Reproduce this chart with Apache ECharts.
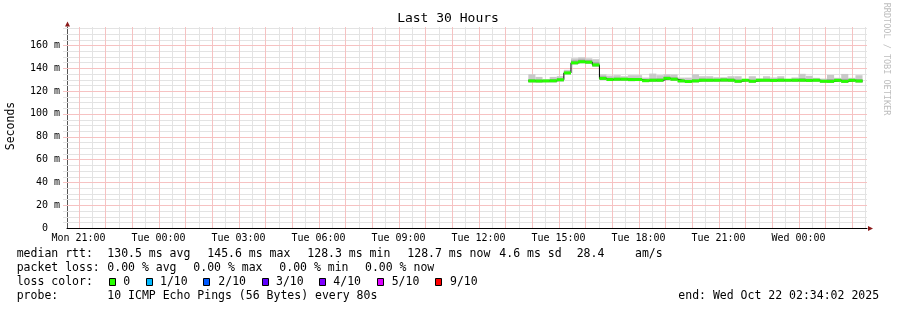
<!DOCTYPE html>
<html><head><meta charset="utf-8">
<script src="https://cdn.jsdelivr.net/npm/echarts@6/dist/echarts.min.js"></script>
<style>html,body{margin:0;padding:0;background:#fff}#c{width:897px;height:310px}</style>
</head><body><div id="c"></div>
<script>
// ---------------- data ----------------
const chartTitle = 'Last 30 Hours';
const yAxisName = 'Seconds';
const watermark = 'RRDTOOL / TOBI OETIKER';
const axisStart = 'Mon 20:34:02';
const axisEnd = 'Wed 02:34:02';
const xTickLabels = ['Mon 21:00','Tue 00:00','Tue 03:00','Tue 06:00','Tue 09:00','Tue 12:00','Tue 15:00','Tue 18:00','Tue 21:00','Wed 00:00'];
const yTickValues = [0,20,40,60,80,100,120,140,160];
const yMax = 176;
// step boundaries (16 minute consolidation)
const stepEdges = ['Tue 13:52','Tue 14:08','Tue 14:24','Tue 14:40','Tue 14:56','Tue 15:12','Tue 15:28','Tue 15:44','Tue 16:00','Tue 16:16','Tue 16:32','Tue 16:48','Tue 17:04','Tue 17:20','Tue 17:36','Tue 17:52','Tue 18:08','Tue 18:24','Tue 18:40','Tue 18:56','Tue 19:12','Tue 19:28','Tue 19:44','Tue 20:00','Tue 20:16','Tue 20:32','Tue 20:48','Tue 21:04','Tue 21:20','Tue 21:36','Tue 21:52','Tue 22:08','Tue 22:24','Tue 22:40','Tue 22:56','Tue 23:12','Tue 23:28','Tue 23:44','Wed 00:00','Wed 00:16','Wed 00:32','Wed 00:48','Wed 01:04','Wed 01:20','Wed 01:36','Wed 01:52','Wed 02:08','Wed 02:24'];
// values in ms
const medianRtt = [128.8,128.7,128.8,128.9,129.8,135.8,144.6,145.6,145.2,142.8,131.0,130.0,130.3,130.3,130.0,130.0,129.0,129.4,129.4,131.0,130.3,128.8,128.3,128.8,129.4,129.4,129.4,129.6,129.4,128.5,129.4,128.5,129.4,129.4,129.2,129.4,129.4,129.4,129.4,129.2,129.4,128.5,128.4,129.3,128.4,129.3,128.7];
const smokeMin = [127.6,127.5,127.7,127.6,128.4,134.6,143.4,144.3,144.0,141.4,129.6,128.7,128.9,129.0,128.6,128.8,127.8,128.1,128.0,129.5,129.0,127.7,127.2,127.6,128.2,128.1,128.2,128.1,128.2,127.3,128.2,127.3,128.1,128.2,128.0,128.1,128.2,128.0,128.1,128.0,128.2,127.3,127.2,128.0,127.2,128.1,127.5];
const smokeInnerMax = [130.2,129.8,129.5,130.4,131.0,137.0,146.8,147.6,147.0,145.2,132.8,131.6,131.5,131.4,131.4,131.2,130.4,130.8,131.0,132.6,131.8,130.0,129.6,130.2,130.8,130.6,130.4,131.0,130.8,129.8,130.2,129.8,130.2,130.6,130.4,130.8,129.9,130.5,131.2,130.6,130.2,129.6,130.4,130.4,130.6,130.2,130.4];
const smokeMax = [134.6,132.3,130.2,132.3,133.0,138.5,148.6,149.4,148.6,147.8,134.5,133.5,133.8,132.9,133.8,133.8,131.7,135.2,133.8,134.6,134.4,131.7,131.7,134.6,132.9,132.9,132.0,132.0,132.9,132.9,130.5,132.9,131.0,132.9,131.8,132.9,130.5,131.8,135.0,133.3,131.5,130.8,134.0,131.5,134.9,131.5,133.8];
// legend texts
const statsRtt = ['median rtt:','130.5 ms avg','145.6 ms max','128.3 ms min','128.7 ms now','4.6 ms sd','28.4','am/s'];
const statsLoss = ['packet loss:','0.00 % avg','0.00 % max','0.00 % min','0.00 % now'];
const lossLabel = 'loss color:';
const lossNames = ['0','1/10','2/10','3/10','4/10','5/10','9/10'];
const lossColors = ['#26ff00','#00b8ff','#0059ff','#5e00ff','#7e00ff','#dd00ff','#ff0000'];
const probeLabel = 'probe:';
const probeText = '10 ICMP Echo Pings (56 Bytes) every 80s';
const endText = 'end: Wed Oct 22 02:34:02 2025';

// ---------------- helpers ----------------
const dayOffset = {Mon:0, Tue:24, Wed:48};
function toHours(s){
  const [d,t] = s.split(' ');
  const p = t.split(':').map(Number);
  return dayOffset[d] + p[0] + p[1]/60 + (p[2]||0)/3600;
}
const xMin = toHours(axisStart), xMax = toHours(axisEnd);
const xTickHours = xTickLabels.map(toHours);
const edges = stepEdges.map(toHours);

// grid lines: [value, orientation(0 vertical, 1 horizontal)]
const minorLines = [], majorLines = [];
for (let h = Math.ceil(xMin*2)/2; h <= xMax; h += 0.5) (Math.abs(h-Math.round(h))<1e-9 ? majorLines : minorLines).push([h, 0]);
for (let v = 5; v < yMax; v += 5) (v % 20 === 0 ? majorLines : minorLines).push([v, 1]);

const smokeOuter = medianRtt.map((m,i)=>[edges[i], edges[i+1], smokeMin[i], smokeMax[i]]);
const smokeInner = medianRtt.map((m,i)=>[edges[i], edges[i+1], smokeMin[i], smokeInnerMax[i]]);
const medianBars = medianRtt.map((m,i)=>[edges[i], edges[i+1], m]);
const medianLine = medianRtt.map((m,i)=>[edges[i], m]).concat([[edges[edges.length-1], medianRtt[medianRtt.length-1]]]);

const mono = '"DejaVu Sans Mono", monospace';

function rectRender(fill){
  return function(params, api){
    const a = api.coord([api.value(0), api.value(3)]);
    const b = api.coord([api.value(1), api.value(2)]);
    return {type:'rect', shape:{x:a[0], y:a[1], width:b[0]-a[0], height:Math.max(b[1]-a[1],0.5)}, style:{fill:fill}};
  };
}
function gridRender(col){
  return function(params, api){
    const cs = params.coordSys;
    const v = api.value(0), o = api.value(1);
    let shape;
    if (o === 0) {
      const x = Math.round(api.coord([v, 0])[0]);
      shape = {x:x, y:cs.y, width:1, height:cs.height};
    } else {
      const y = Math.round(api.coord([xMin, v])[1]);
      shape = {x:cs.x - 4, y:y, width:cs.width + 4, height:1};
    }
    return {type:'rect', shape:shape, style:{fill:col}};
  };
}

// ---------------- graphics (texts) ----------------
const g = [];
function txt(text, x, y, size){
  g.push({type:'text', x:x, y:y, silent:true, style:{text:text, font: size+'px '+mono, fill:'#000', align:'left', verticalAlign:'middle'}});
}
g.push({type:'text', x:448, y:19, silent:true, style:{text:chartTitle, font:'13px '+mono, fill:'#000', align:'center', verticalAlign:'middle'}});
g.push({type:'text', x:11, y:126, rotation:Math.PI/2, silent:true, style:{text:yAxisName, font:'11.5px '+mono, fill:'#000', align:'center', verticalAlign:'middle'}});
g.push({type:'text', x:886, y:59, rotation:-Math.PI/2, silent:true, style:{text:watermark, font:'8.5px '+mono, fill:'#bdbdbd', align:'center', verticalAlign:'middle'}});
const fs = 11.5;
const l1x = [16.7,107.3,207.3,307.3,407.3,499.3,576.7,635];
statsRtt.forEach((t,i)=>txt(t, l1x[i], 254.5, fs));
const l2x = [16.7,107.3,193.3,279.3,365];
statsLoss.forEach((t,i)=>txt(t, l2x[i], 268.5, fs));
txt(lossLabel, 16.7, 282.5, fs);
const boxX = [109,146,203.3,261.7,319.3,376.7,435];
const nameX = [123.3,160,218.3,276,333.3,391.7,450];
lossNames.forEach((n,i)=>{
  g.push({type:'rect', silent:true, shape:{x:Math.round(boxX[i])+0.5, y:278.5, width:6, height:7}, style:{fill:lossColors[i], stroke:'#000', lineWidth:1}});
  txt(n, nameX[i], 282.5, fs);
});
txt(probeLabel, 16.7, 296.5, fs);
txt(probeText, 107.3, 296.5, fs);
txt(endText, 678.3, 296.5, fs);
// axis arrows
g.push({type:'polygon', silent:true, shape:{points:[[67.5,21.5],[65,26.5],[70,26.5]]}, style:{fill:'#8b1a1a'}});
g.push({type:'polygon', silent:true, shape:{points:[[873,228.5],[868,226],[868,231]]}, style:{fill:'#8b1a1a'}});

// ---------------- chart ----------------
const chart = echarts.init(document.getElementById('c'), null, {renderer:'canvas'});
chart.setOption({
  animation:false,
  backgroundColor:'#ffffff',
  grid:{left:67, right:30, top:27, bottom:82, containLabel:false},
  xAxis:{
    type:'value', min:xMin, max:xMax,
    axisLine:{show:true, lineStyle:{color:'#000', width:1}},
    axisTick:{show:false},
    splitLine:{show:false},
    axisLabel:{
      customValues:xTickHours,
      formatter:(v)=>{ const i = xTickHours.findIndex(h=>Math.abs(h-v)<1e-6); return i>=0 ? xTickLabels[i] : ''; },
      fontFamily:'DejaVu Sans Mono', fontSize:10, color:'#000', margin:5
    }
  },
  yAxis:{
    type:'value', min:0, max:yMax, interval:20,
    axisLine:{show:true, lineStyle:{color:'#555', width:1}},
    axisTick:{show:false},
    splitLine:{show:false},
    axisLabel:{
      showMaxLabel:false,
      formatter:(v)=> (v % 20 !== 0) ? '' : (v === 0 ? '0  ' : v + ' m'),
      fontFamily:'DejaVu Sans Mono', fontSize:10, color:'#000', margin:7
    }
  },
  graphic:g,
  series:[
    {type:'custom', z:1, silent:true, renderItem:gridRender('#e3e3e3'), data:minorLines, encode:{x:0}, clip:false},
    {type:'custom', z:1, silent:true, renderItem:gridRender('#f6c2c2'), data:majorLines, encode:{x:0}, clip:false},
    {type:'custom', z:2, renderItem:rectRender('#c9c9c9'), data:smokeOuter, encode:{x:[0,1], y:[2,3]}, silent:true},
    {type:'custom', z:3, renderItem:rectRender('#a6a6a6'), data:smokeInner, encode:{x:[0,1], y:[2,3]}, silent:true},
    {type:'line', z:4, data:medianLine, step:'end', showSymbol:false, lineStyle:{color:'#000', width:1}, silent:true},
    {type:'custom', z:5, silent:true, data:medianBars, encode:{x:[0,1], y:2},
     renderItem:(params, api)=>{
       const a = api.coord([api.value(0), api.value(2)]);
       const b = api.coord([api.value(1), api.value(2)]);
       return {type:'rect', shape:{x:a[0], y:a[1]-1.5, width:b[0]-a[0], height:3}, style:{fill:lossColors[0]}};
     }}
  ]
});
</script></body></html>
